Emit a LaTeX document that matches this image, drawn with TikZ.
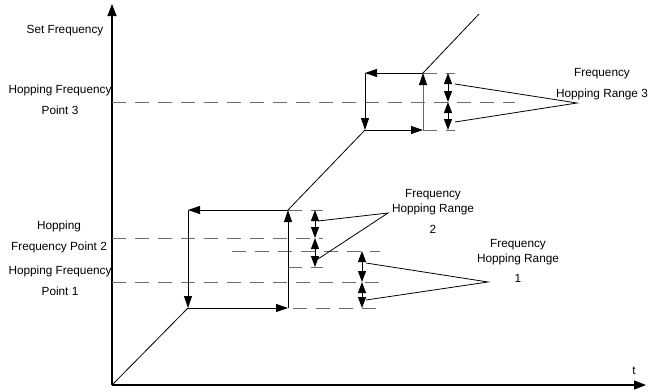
\documentclass[tikz,border=0pt]{standalone}
\usepackage{fontspec}
\setmainfont{Liberation Sans}
\usetikzlibrary{arrows.meta}

\tikzset{
  axis/.style={line width=1.1pt, -{Triangle[length=12pt,width=9pt]}},
  flow/.style={line width=0.9pt, -{Triangle[length=12pt,width=8pt,color=black]}},
  ramp/.style={line width=0.8pt},
  guide/.style={line width=1pt, black!58, dash pattern=on 14pt off 9pt},
  span/.style={line width=0.9pt, {Triangle[length=11pt,width=8pt]}-{Triangle[length=11pt,width=8pt]}},
  leader/.style={line width=0.8pt},
  lbl/.style={font=\fontsize{11.8}{21}\selectfont, align=center, inner sep=0pt}
}

\begin{document}
\begin{tikzpicture}[x=1pt, y=-1pt]
\useasboundingbox (0,0) rectangle (648,391);
% axes
\coordinate (O) at (112,385);
\coordinate (ytop) at (112,4);
\coordinate (xend) at (646,385);
\draw[axis] (O) -- (ytop);
\draw[axis] (O) -- (xend);
\node[lbl] (yname) at (65,31) {Set Frequency};
\node[lbl] (tname) at (634,371) {t};

% loop corners
\coordinate (la) at (188,308); \coordinate (lb) at (288,308);
\coordinate (lc) at (288,210); \coordinate (ld) at (188,210);
\coordinate (ua) at (365,130); \coordinate (ub) at (423,130);
\coordinate (uc) at (423,73);  \coordinate (ud) at (365,73);
\coordinate (top) at (479,14);

% dashed guides
\draw[guide] (112,102) coordinate (p3a) -- (515,102) coordinate (p3b);
\draw[guide] (uc) -- (455,73);
\draw[guide] (ub) -- (455,130);
\draw[guide] (112,238) coordinate (p2a) -- (323,238) coordinate (p2b);
\draw[guide] (lc) -- (323,210);
\draw[guide] (288,267) -- (323,267);
\draw[guide] (232,251) -- (380,251);
\draw[guide] (112,282) coordinate (p1a) -- (380,282) coordinate (p1b);
\draw[guide] (247,308) -- (378,308);

% set frequency path
\draw[ramp] (O) -- (la);
\draw[ramp] (lc) -- (ua);
\draw[ramp] (uc) -- (top);
\draw[flow] (la) -- (lb);
\draw[flow] (lb) -- (lc);
\draw[flow] (lc) -- (ld);
\draw[flow] (ld) -- (la);
\draw[flow] (ua) -- (ub);
\draw[flow, black!60] (ub) -- (uc);
\draw[flow] (uc) -- (ud);
\draw[flow] (ud) -- (ua);

% hopping ranges
\draw[span] (448,73) -- (448,102);
\draw[span] (448,102) -- (448,130);
\draw[span] (315,210) -- (315,238);
\draw[span] (315,238) -- (315,267);
\draw[span] (362,251) -- (362,282);
\draw[span] (362,282) -- (362,308);

% labels and leaders
\node[lbl] (hfp3) at (60,100) {Hopping Frequency\\Point 3};
\node[lbl] (hfp2) at (59,237) {Hopping\\Frequency Point 2};
\node[lbl] (hfp1) at (60,281) {Hopping Frequency\\Point 1};

\node[lbl] (rng3) at (602,84) {Frequency\\Hopping Range 3};
\node[lbl, font=\fontsize{11.8}{15}\selectfont] (rng2) at (433,211) {Frequency\\Hopping Range\\[6pt]2};
\node[lbl, font=\fontsize{11.8}{15}\selectfont] (rng1) at (518,261) {Frequency\\Hopping Range\\[5pt]1};

\coordinate (r3tip) at (577,103);
\coordinate (r2tip) at (388,213);
\coordinate (r1tip) at (488,282);
\draw[leader] (455,84) -- (r3tip) -- (455,122);
\draw[leader] (318,221) -- (r2tip) -- (318,259);
\draw[leader] (366,263) -- (r1tip) -- (366,300);
\end{tikzpicture}
\end{document}
